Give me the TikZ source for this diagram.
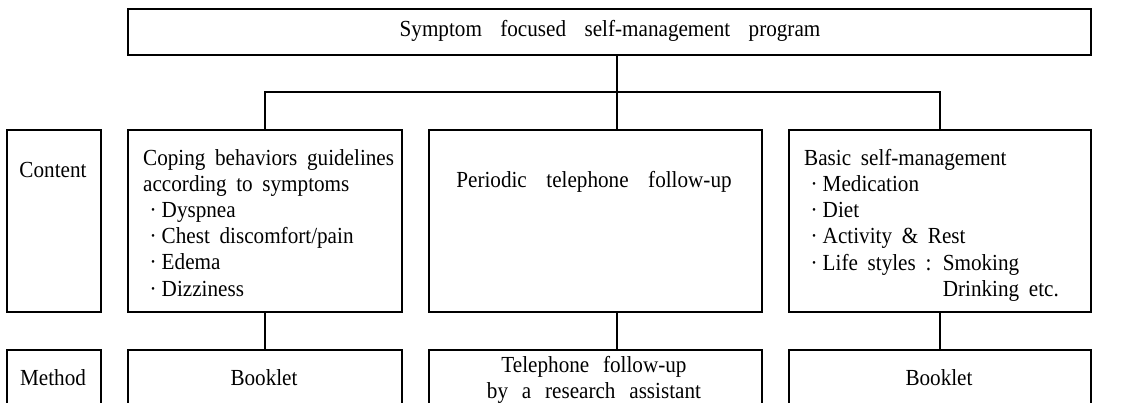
\documentclass[tikz,border=0pt]{standalone}
\usepackage{fontspec}
\setmainfont[FakeStretch=0.92]{Liberation Serif}
\newcommand\wfont{\fontsize{23}{26.2}\selectfont\spaceskip=0.42em plus 0.1em minus 0.05em\relax}
\newcommand\widesp[1]{\spaceskip=#1em\relax}
\newcommand\bul{\hspace*{6.5pt}\textperiodcentered\hspace{5pt}}
\begin{document}
\begin{tikzpicture}[x=1pt,y=-1pt,
  box/.style={draw,line width=1.6pt,inner sep=0pt,anchor=north west},
  lbl/.style={inner sep=0pt,font=\wfont},
  conn/.style={line width=1.6pt}]
\useasboundingbox (0,0) rectangle (1136,403);
\clip (0,0) rectangle (1136,403);
% frames
\node[box,minimum width=963pt,minimum height=46pt] (top) at (127,8) {};
\node[box,minimum width=94pt,minimum height=182pt] (content) at (6,129) {};
\node[box,minimum width=274pt,minimum height=182pt] (c1) at (127,129) {};
\node[box,minimum width=333pt,minimum height=182pt] (c2) at (428,129) {};
\node[box,minimum width=302pt,minimum height=182pt] (c3) at (788,129) {};
\node[box,minimum width=94pt,minimum height=60pt] (method) at (6,349) {};
\node[box,minimum width=274pt,minimum height=60pt] (m1) at (127,349) {};
\node[box,minimum width=333pt,minimum height=60pt] (m2) at (428,349) {};
\node[box,minimum width=302pt,minimum height=60pt] (m3) at (788,349) {};
% texts
\node[lbl] (ttop) at (610,31) {\widesp{0.8}Symptom focused self-management program};
\node[lbl] (tcontent) at (53,170) {Content};
\node[lbl,anchor=north west,align=left] (tc1) at (143,149) {Coping behaviors guidelines\\
according to symptoms\\
\bul Dyspnea\\
\bul Chest discomfort/pain\\
\bul Edema\\
\bul Dizziness};
\node[lbl] (tc2) at (594,182) {\widesp{0.85}Periodic telephone follow-up};
\node[lbl,anchor=north west,align=left] (tc3) at (804,149) {Basic self-management\\
\bul Medication\\
\bul Diet\\
\bul Activity \& Rest\\
\bul Life styles : Smoking\\
\hphantom{\bul Life styles : }Drinking etc.};
\node[lbl] (tmethod) at (53,378) {Method};
\node[lbl] (tm1) at (264,378) {Booklet};
\node[lbl,align=center] (tm2) at (594,380) {\widesp{0.6}Telephone follow-up\\\widesp{0.6}by a research assistant};
\node[lbl] (tm3) at (939,378) {Booklet};
% connectors
\coordinate (j) at (617,92);
\draw[conn] (top.south -| j) -- (j);
\draw[conn] (c1.north) |- (j);
\draw[conn] (j) -| (c3.north);
\draw[conn] (j) -- (j |- c2.north);
\draw[conn] (c1.south) -- (m1.north);
\draw[conn] (j |- c2.south) -- (j |- m2.north);
\draw[conn] (c3.south) -- (m3.north);
\end{tikzpicture}
\end{document}
